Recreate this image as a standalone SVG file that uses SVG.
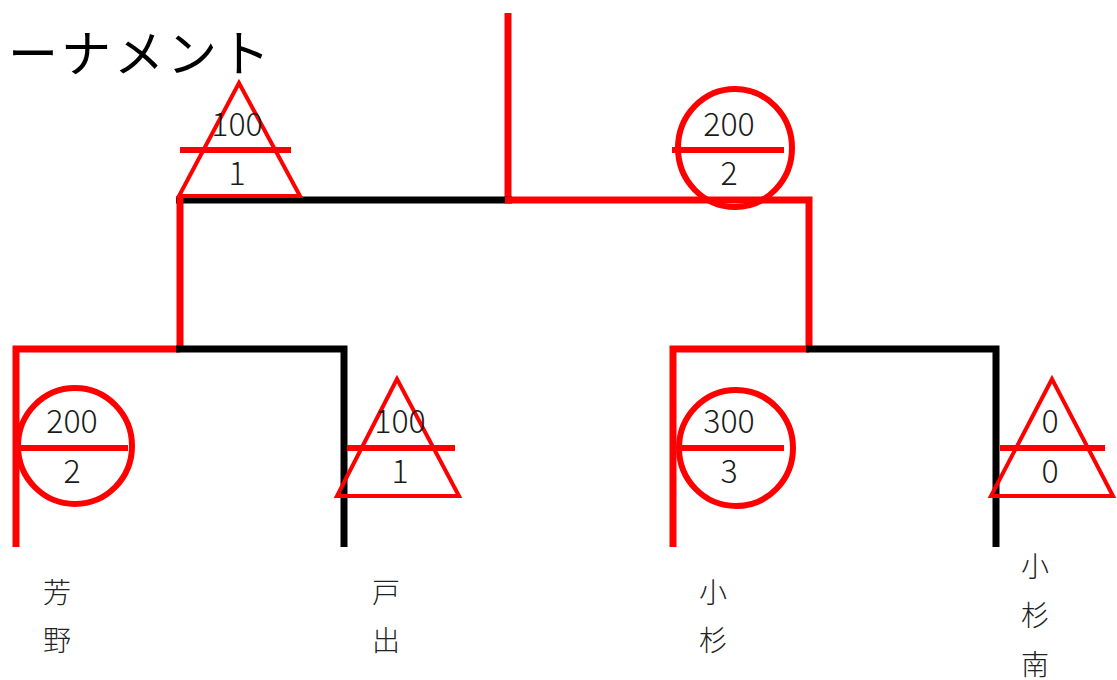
<svg xmlns="http://www.w3.org/2000/svg" width="1117" height="680" viewBox="0 0 1117 680">
<style>
.r{stroke:#ff0000;stroke-width:7;fill:none;stroke-linecap:butt}
.k{stroke:#000000;stroke-width:7;fill:none;stroke-linecap:butt}
.circ{stroke:#ff0000;stroke-width:6;fill:none}
.tri{stroke:#ff0000;stroke-width:4;fill:none;stroke-linejoin:miter}
.bar{stroke:#ff0000;stroke-width:6}
.num{font-family:"Noto Sans CJK JP","Noto Sans",sans-serif;font-size:32px;font-weight:300;fill:#1a1a1a;text-anchor:middle}
.name{font-family:"Noto Sans CJK JP",sans-serif;font-size:28px;font-weight:300;fill:#222222}
.title{font-family:"Noto Sans CJK JP",sans-serif;font-size:50px;fill:#000000;letter-spacing:3px}
</style>
<rect width="1117" height="680" fill="#ffffff"/>
<text class="title" x="8" y="72">ーナメント</text>
<g id="connectors">
  <line class="r" x1="508" y1="13" x2="508" y2="200"/>
  <line class="k" x1="176" y1="200" x2="512" y2="200"/>
  <polyline class="r" points="505,200 809,200 809,352"/>
  <line class="r" x1="180" y1="196" x2="180" y2="349"/>
  <polyline class="r" points="16,547 16,349 180,349"/>
  <polyline class="k" points="176,349 344,349 344,547"/>
  <polyline class="r" points="673,547 673,349 809,349"/>
  <polyline class="k" points="806,349 996,349 996,547"/>
</g>
<g id="final-left">
  <polygon class="tri" points="239,83 179,196 300,196"/>
  <line class="bar" x1="180" y1="150" x2="291" y2="150"/>
  <text class="num" x="237" y="136">100</text>
  <text class="num" x="237" y="185">1</text>
</g>
<g id="final-right">
  <ellipse class="circ" cx="735" cy="148" rx="57" ry="59"/>
  <line class="bar" x1="672" y1="150" x2="784" y2="150"/>
  <text class="num" x="729" y="136">200</text>
  <text class="num" x="729" y="185">2</text>
</g>
<g id="team-yoshino">
  <ellipse class="circ" cx="75" cy="446" rx="57" ry="58"/>
  <line class="bar" x1="19" y1="448" x2="128" y2="448"/>
  <text class="num" x="72" y="433">200</text>
  <text class="num" x="72" y="483">2</text>
  <text class="name" x="43" y="603">芳</text>
  <text class="name" x="43" y="651">野</text>
</g>
<g id="team-tode">
  <polygon class="tri" points="397,379 337,496 459,496"/>
  <line class="bar" x1="347" y1="448" x2="455" y2="448"/>
  <text class="num" x="400" y="433">100</text>
  <text class="num" x="400" y="483">1</text>
  <text class="name" x="372" y="603">戸</text>
  <text class="name" x="372" y="651">出</text>
</g>
<g id="team-kosugi">
  <ellipse class="circ" cx="736" cy="448" rx="57" ry="58"/>
  <line class="bar" x1="677" y1="448" x2="784" y2="448"/>
  <text class="num" x="729" y="433">300</text>
  <text class="num" x="729" y="483">3</text>
  <text class="name" x="699" y="603">小</text>
  <text class="name" x="699" y="651">杉</text>
</g>
<g id="team-kosugiminami">
  <polygon class="tri" points="1052,379 991,496 1113,496"/>
  <line class="bar" x1="1000" y1="448" x2="1105" y2="448"/>
  <text class="num" x="1050" y="433">0</text>
  <text class="num" x="1050" y="483">0</text>
  <text class="name" x="1021" y="577">小</text>
  <text class="name" x="1021" y="626">杉</text>
  <text class="name" x="1021" y="675">南</text>
</g>
</svg>
